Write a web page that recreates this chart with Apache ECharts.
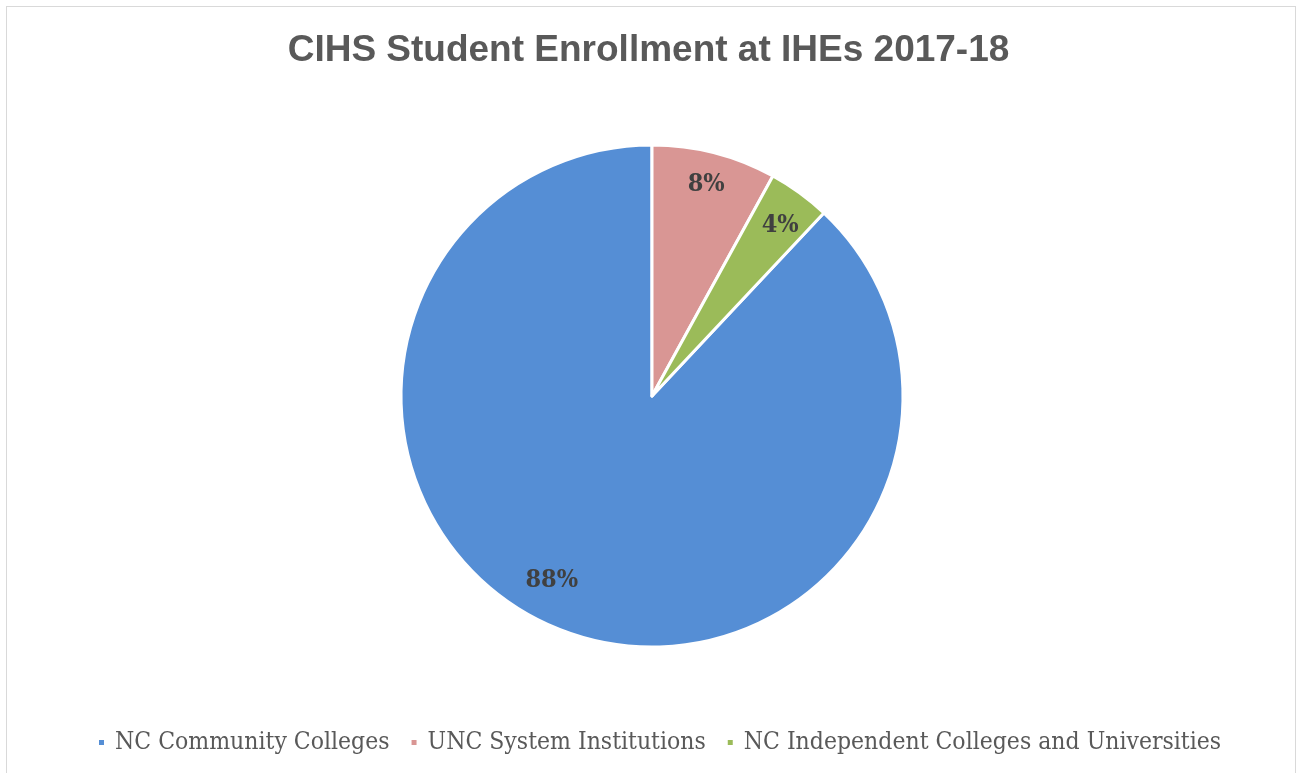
<!DOCTYPE html>
<html><head><meta charset="utf-8">
<script src="https://cdn.jsdelivr.net/npm/echarts@6/dist/echarts.min.js"></script>
<style>
html,body{margin:0;padding:0;background:#fff;}
#frame{position:absolute;left:6px;top:6px;width:1288px;height:800px;border:1px solid #d9d9d9;}
#chart{position:absolute;left:0;top:0;width:1297px;height:773px;}
</style></head>
<body>
<div id="frame"></div>
<div id="chart"></div>
<script>
const categories = ["NC Community Colleges", "UNC System Institutions", "NC Independent Colleges and Universities"];
const values = [88, 8, 4];
const colors = ["#558ED5", "#D99694", "#9BBB59"];
const titleText = "CIHS Student Enrollment at IHEs 2017-18";

const chart = echarts.init(document.getElementById('chart'), null, {renderer: 'canvas'});
const startAngle = 90 - 360 * (values[1] + values[2]) / 100;
const pieData = categories.map((c, i) => ({name: c, value: values[i], itemStyle: {color: colors[i]}}));
const labelData = categories.map((c, i) => ({name: c, value: values[i]}));
const serif = '"DejaVu Serif Condensed", "DejaVu Serif", serif';
const labelFormatter = function (p) {
  const t = '{t|' + p.value + '%}';
  if (p.dataIndex === 0) return t + '{sp|}\n{gap|}';
  if (p.dataIndex === 2) return '{gap2|}\n' + t;
  return t;
};
chart.setOption({
  animation: false,
  title: {
    text: titleText, left: 'center', top: 27,
    textStyle: {fontFamily: 'Liberation Sans', fontWeight: 'bold', fontSize: 37, color: '#595959'}
  },
  legend: {
    bottom: 13, left: 92, icon: 'rect', itemWidth: 7, itemHeight: 7, itemGap: 20,
    data: categories,
    textStyle: {fontFamily: serif, fontSize: 24.5, color: '#595959', padding: [0, 0, 0, 5]}
  },
  series: [{
    type: 'pie', center: [652, 396], radius: [0, 251], startAngle: startAngle, clockwise: true,
    data: pieData, label: {show: false}, labelLine: {show: false},
    itemStyle: {borderColor: '#fff', borderWidth: 3},
    emphasis: {disabled: true}
  }, {
    type: 'pie', center: [652, 396], radius: [179, 251], startAngle: startAngle, clockwise: true,
    data: labelData, silent: true, legendHoverLink: false,
    itemStyle: {color: 'rgba(0,0,0,0)', borderWidth: 0},
    label: {show: true, position: 'inside', formatter: labelFormatter,
      rich: {
        t: {fontFamily: serif, fontWeight: 'bold', fontSize: 25, color: '#404040', lineHeight: 30},
        sp: {width: 40, height: 1},
        gap: {height: 36, lineHeight: 36},
        gap2: {height: 12, lineHeight: 12}
      }},
    labelLine: {show: false},
    emphasis: {disabled: true}
  }]
});
</script>
</body></html>
